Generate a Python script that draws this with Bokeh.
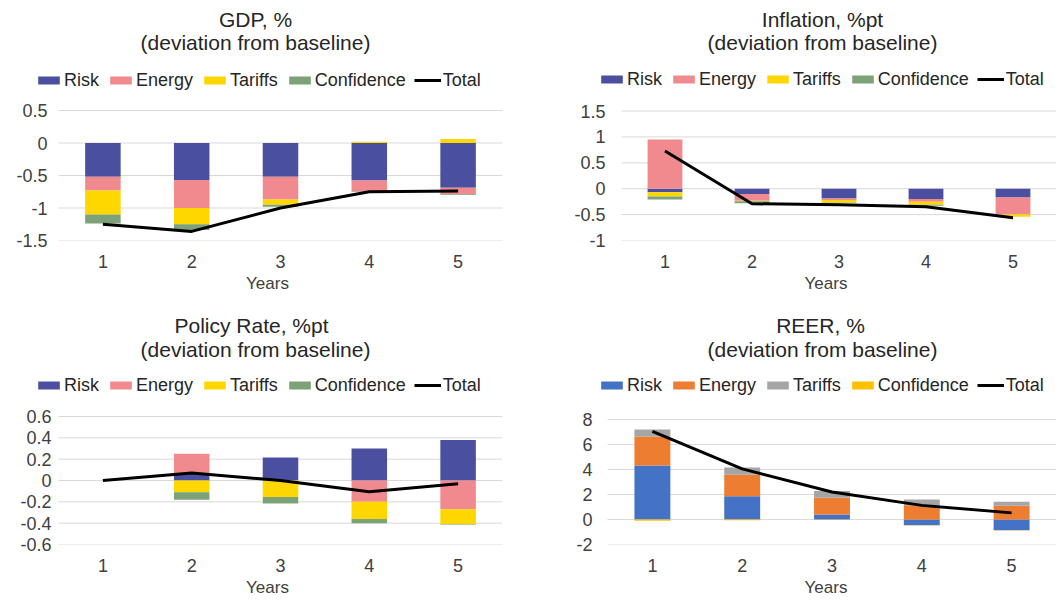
from bokeh.plotting import figure
from bokeh.layouts import gridplot
from bokeh.models import (Legend, LegendItem, Label, FixedTicker, Range1d,
                          ColumnDataSource, CustomJSTickFormatter)
from bokeh.embed import file_html
from bokeh.resources import INLINE

# ---------------- data ----------------
years = [1, 2, 3, 4, 5]
components = ["Risk", "Energy", "Tariffs", "Confidence"]

gdp_risk = [-0.52, -0.57, -0.52, -0.575, -0.69]
gdp_energy = [-0.21, -0.43, -0.35, -0.17, -0.10]
gdp_tariffs = [-0.37, -0.25, -0.08, 0.02, 0.06]
gdp_confidence = [-0.14, -0.09, -0.03, -0.01, -0.01]
gdp_total = [-1.25, -1.36, -1.00, -0.75, -0.74]
gdp_ticks = [-1.5, -1, -0.5, 0, 0.5]

infl_risk = [-0.07, -0.10, -0.19, -0.20, -0.17]
infl_energy = [0.95, -0.13, -0.03, -0.05, -0.33]
infl_tariffs = [-0.08, -0.01, -0.05, -0.06, -0.04]
infl_confidence = [-0.06, -0.04, -0.01, -0.02, 0.0]
infl_total = [0.73, -0.29, -0.31, -0.35, -0.56]
infl_ticks = [-1, -0.5, 0, 0.5, 1, 1.5]

rate_risk = [0.0, 0.07, 0.215, 0.30, 0.38]
rate_energy = [0.0, 0.18, 0.0, -0.20, -0.27]
rate_tariffs = [0.0, -0.11, -0.155, -0.16, -0.14]
rate_confidence = [0.0, -0.07, -0.06, -0.04, -0.005]
rate_total = [0.0, 0.07, 0.0, -0.105, -0.03]
rate_ticks = [-0.6, -0.4, -0.2, 0, 0.2, 0.4, 0.6]

reer_risk = [4.33, 1.86, 0.40, -0.45, -0.85]
reer_energy = [2.32, 1.73, 1.35, 1.15, 1.10]
reer_tariffs = [0.55, 0.58, 0.53, 0.45, 0.32]
reer_confidence = [-0.10, -0.05, -0.02, -0.02, -0.02]
reer_total = [7.05, 4.05, 2.2, 1.13, 0.53]
reer_ticks = [-2, 0, 2, 4, 6, 8]

cols_a = ["#4A4FA0", "#F08A8E", "#FFD700", "#7DA277"]
cols_b = ["#4472C4", "#ED7D31", "#A5A5A5", "#FFC000"]

FONT = "Liberation Sans"
TXT = "#262626"
LBL = "#404040"


def stack(series_list):
    n = len(years)
    pos = [0.0] * n
    neg = [0.0] * n
    out = []
    for vals in series_list:
        b, t = [], []
        for i, v in enumerate(vals):
            if v >= 0:
                b.append(pos[i]); t.append(pos[i] + v); pos[i] += v
            else:
                b.append(neg[i]); t.append(neg[i] + v); neg[i] += v
        out.append((b, t))
    return out


def make_panel(t1, t2, series, total, colors, ticks, fig_x, fig_y, width, height,
               data_l, frame_r, tick_top, frame_b, lab_right,
               t1_xy, t2_xy, leg_left, leg_cy):
    frame_l = leg_left - 3
    tmin, tmax = min(ticks), max(ticks)
    s = (frame_b - tick_top) / (tmax - tmin)          # px per unit
    y_end = tmax + (tick_top - fig_y) / s
    xs = (frame_r - data_l) / 5.0
    x_start = 0.5 - (data_l - frame_l) / xs

    def dx(px):
        return 0.5 + (px - data_l) / xs

    def dy(py):
        return y_end - (py - fig_y) / s

    p = figure(width=width, height=height, output_backend="svg",
               toolbar_location=None, title=None,
               x_range=Range1d(x_start, 5.5), y_range=Range1d(tmin, y_end),
               min_border_left=frame_l - fig_x,
               min_border_right=fig_x + width - frame_r,
               min_border_top=0,
               min_border_bottom=fig_y + height - frame_b)
    p.outline_line_color = None
    p.xgrid.grid_line_color = None
    p.ygrid.grid_line_color = None

    n = len(ticks)
    p.segment(x0=[0.5] * n, x1=[5.5] * n, y0=ticks, y1=ticks,
              line_color="#D9D9D9", line_width=1, level="underlay")

    items = []
    for (b, t), name, c in zip(stack(series), components, colors):
        src = ColumnDataSource(dict(x=years, bottom=b, top=t))
        r = p.vbar(x="x", width=0.4, bottom="bottom", top="top", source=src,
                   fill_color=c, line_color=None)
        items.append(LegendItem(label=name, renderers=[r]))
    rl = p.line(years, total, line_color="black", line_width=3)
    items.append(LegendItem(label="Total", renderers=[rl]))

    p.yaxis.ticker = FixedTicker(ticks=ticks)
    p.yaxis.formatter = CustomJSTickFormatter(code="return tick.toString()")
    p.xaxis.ticker = FixedTicker(ticks=years)
    p.xaxis.axis_label = "Years"
    for ax in (p.xaxis[0], p.yaxis[0]):
        ax.axis_line_color = None
        ax.major_tick_line_color = None
        ax.minor_tick_line_color = None
        ax.major_tick_out = 0
        ax.major_tick_in = 0
        ax.major_label_text_font = FONT
        ax.major_label_text_font_size = "18px"
        ax.major_label_text_color = LBL
    p.yaxis.major_label_standoff = frame_l - lab_right
    p.xaxis.major_label_standoff = 14
    p.xaxis.axis_label_text_font = FONT
    p.xaxis.axis_label_text_font_size = "17px"
    p.xaxis.axis_label_text_font_style = "normal"
    p.xaxis.axis_label_text_color = LBL
    p.xaxis.axis_label_standoff = 3

    leg = Legend(items=items, orientation="horizontal",
                 location=(leg_left - frame_l, frame_b - (leg_cy + 10.5)),
                 label_text_font=FONT, label_text_font_size="18px",
                 label_text_color=TXT, glyph_width=27, glyph_height=10,
                 label_standoff=2, spacing=8, padding=0, margin=0,
                 border_line_color=None, background_fill_alpha=0)
    p.add_layout(leg, "center")

    for txt, (px, py) in ((t1, t1_xy), (t2, t2_xy)):
        p.add_layout(Label(x=dx(px), y=dy(py), text=txt, text_align="center",
                           text_baseline="middle", text_font=FONT,
                           text_font_size="21px", text_color=TXT))
    return p


p1 = make_panel("GDP, %", "(deviation from baseline)",
                [gdp_risk, gdp_energy, gdp_tariffs, gdp_confidence], gdp_total,
                cols_a, gdp_ticks, 0, 0, 529, 300,
                58, 502, 110, 240, 47, (255, 19), (255, 42), 35, 80)
p2 = make_panel("Inflation, %pt", "(deviation from baseline)",
                [infl_risk, infl_energy, infl_tariffs, infl_confidence], infl_total,
                cols_a, infl_ticks, 529, 0, 529, 300,
                621, 1056, 111, 241, 605, (822, 19), (822, 42), 598, 80)
p3 = make_panel("Policy Rate, %pt", "(deviation from baseline)",
                [rate_risk, rate_energy, rate_tariffs, rate_confidence], rate_total,
                cols_a, rate_ticks, 0, 300, 529, 302,
                58, 502, 416, 544, 51, (251, 325), (255, 349), 35, 385)
p4 = make_panel("REER, %", "(deviation from baseline)",
                [reer_risk, reer_energy, reer_tariffs, reer_confidence], reer_total,
                cols_b, reer_ticks, 529, 300, 529, 302,
                607, 1056, 419, 544, 592, (820, 325), (822, 349), 598, 385)

grid = gridplot([[p1, p2], [p3, p4]], toolbar_location=None)
open("out.html", "w").write(file_html(grid, INLINE))
